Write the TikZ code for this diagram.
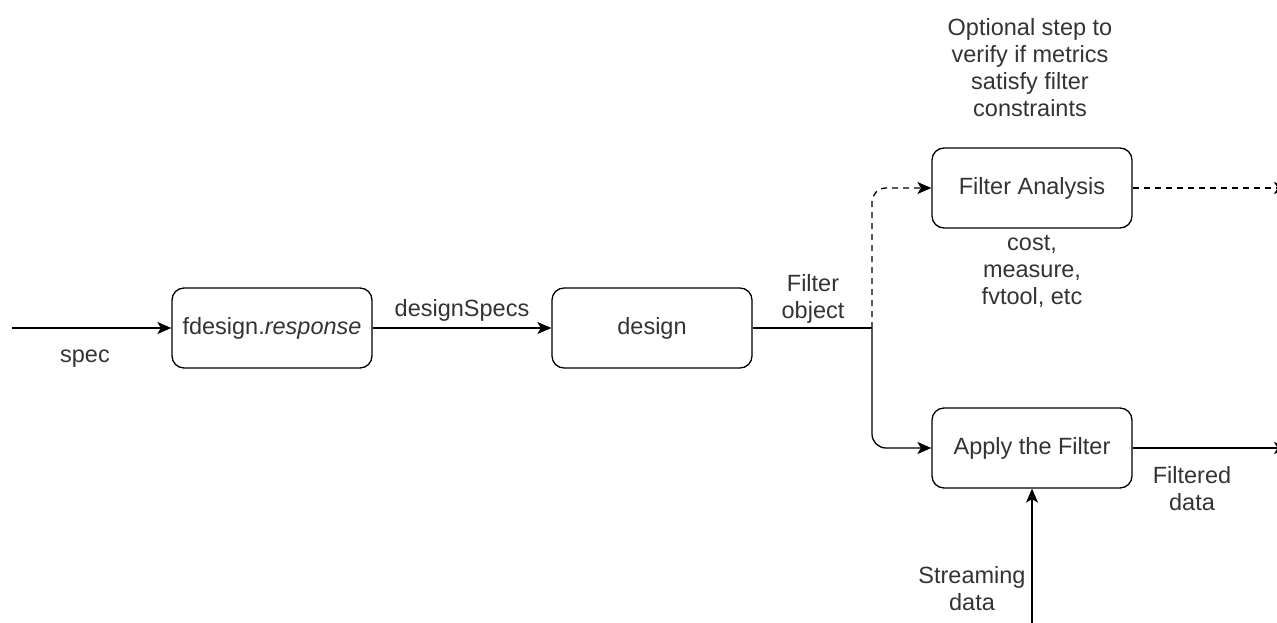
\documentclass[tikz,border=0pt]{standalone}
\usepackage{fontspec}
\setmainfont{Liberation Sans}
\usetikzlibrary{arrows.meta}
\definecolor{txt}{HTML}{333333}
\tikzset{
  box/.style={draw=black, line width=1.3pt, rounded corners=12pt, minimum width=200pt, minimum height=80pt, inner sep=0pt, text=txt, font=\fontsize{23.5}{27}\selectfont},
  lbl/.style={text=txt, font=\fontsize{23.5}{27}\selectfont, align=center, inner sep=0pt},
  conn/.style={line width=1.3pt, draw=black},
  arr/.style={conn, -{Stealth[length=14pt,width=12pt,inset=3.5pt]}},
  dsh/.style={dash pattern=on 6pt off 5pt}
}
\begin{document}
\begin{tikzpicture}[x=1pt,y=-1pt]
\useasboundingbox (0,0) rectangle (1277,623);
\node[box] (fd) at (272,328) {fdesign.\textit{response}};
\node[box] (des) at (652,328) {design};
\node[box] (fa) at (1032,188) {Filter Analysis};
\node[box] (ap) at (1032,448) {Apply the Filter};
\coordinate (in) at (12,328);
\coordinate (br) at (872,328);
\coordinate (o1) at (1288,188);
\coordinate (o2) at (1288,448);
\coordinate (sd) at (1032,623);
\draw[arr] (in) -- (fd.west);
\draw[arr] (fd.east) -- (des.west);
\draw[conn] (des.east) -- (br);
\draw[arr,dsh,rounded corners=14pt] (br) |- (fa.west);
\draw[arr,rounded corners=14pt] (br) |- (ap.west);
\draw[arr,dsh] (fa.east) -- (o1);
\draw[arr] (ap.east) -- (o2);
\draw[arr] (sd) -- (ap.south);
\node[lbl] (l1) at (85,359) {spec};
\node[lbl] (l2) at (462,310) {designSpecs};
\node[lbl] (l3) at (813,299) {Filter\\object};
\node[lbl] (l4) at (1032,271) {cost,\\measure,\\fvtool, etc};
\node[lbl] (l5) at (1030,68) {Optional step to\\verify if metrics\\satisfy filter\\constraints};
\node[lbl] (l6) at (1192,489) {Filtered\\data};
\node[lbl] (l7) at (972,589) {Streaming\\data};
\end{tikzpicture}
\end{document}
